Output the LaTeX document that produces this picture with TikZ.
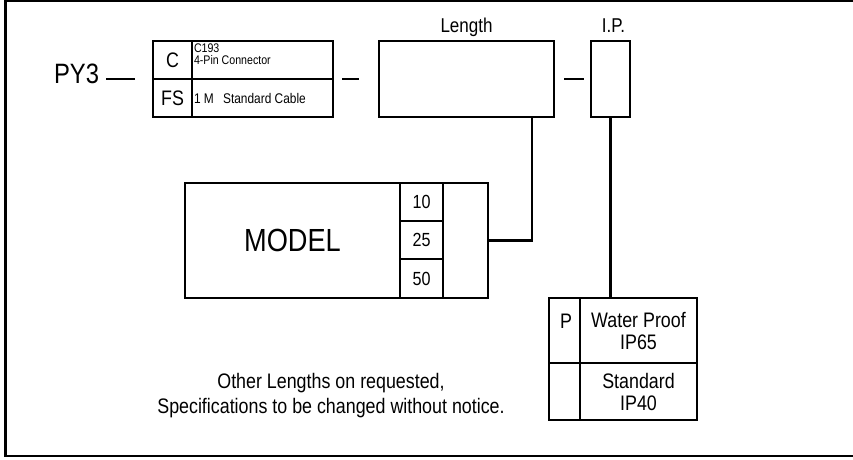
\documentclass[tikz,border=0pt]{standalone}
\usepackage{fontspec}
\setmainfont{Liberation Sans}[FakeStretch=0.85]
\usetikzlibrary{positioning}

\newcommand{\fsz}[2]{\fontsize{#1}{#2}\selectfont}

\begin{document}
\begin{tikzpicture}[
    x=1pt, y=-1pt,
    cell/.style={draw, rectangle, line width=2.3pt, inner sep=0pt, outer sep=0pt, align=center},
    lbl/.style={inner sep=0pt, outer sep=0pt, align=center},
    link/.style={line width=2.3pt}
]
\useasboundingbox (0,0) rectangle (853,459);
\clip (0,0) rectangle (853,459);

% Frame
\draw[line width=2.5pt] (5.5,0.5) rectangle (880,456);

% Cable group
\node (py3) [lbl, anchor=base east, font=\fsz{28}{28}] at (99,83) {PY3};
\node (cC) [cell, anchor=north west, minimum width=39pt, minimum height=38pt, font=\fsz{21}{21}] at (153,41) {C};
\node (cSpec) [cell, minimum width=141pt, minimum height=38pt, right=0pt of cC] {};
\node (cFS) [cell, minimum width=39pt, minimum height=38pt, below=0pt of cC, font=\fsz{21}{21}] {FS};
\node (cCable) [cell, minimum width=141pt, minimum height=38pt, right=0pt of cFS] {};
\node (cSpecTxt) [lbl, anchor=north west, align=left, font=\fsz{12.5}{12.5}] at ([shift={(2pt,-2.5pt)}]cSpec.north west) {C193\\4-Pin Connector};
\node (cCableTxt) [lbl, anchor=west, font=\fsz{14}{14}] at ([xshift=2pt]cCable.west) {1 M\hspace{6pt} Standard Cable};

% Length and I.P.
\node (len) [cell, anchor=north west, minimum width=175pt, minimum height=76pt] at (379,41) {};
\node (ip) [cell, anchor=north west, minimum width=39pt, minimum height=76pt] at (591,41) {};
\node (lenLbl) [lbl, anchor=base, font=\fsz{20}{20}] at ([yshift=9pt]len.north) {Length};
\node (ipLbl) [lbl, anchor=base, font=\fsz{20}{20}] at ([shift={(3pt,9pt)}]ip.north) {I.P.};

% Model block
\node (model) [cell, anchor=north west, minimum width=215pt, minimum height=115pt, font=\fsz{32}{32}] at (185,183) {MODEL};
\node (n10) [cell, anchor=north west, minimum width=43pt, minimum height=38pt, font=\fsz{19}{19}] at (400,183) {10};
\node (n25) [cell, minimum width=43pt, minimum height=38pt, below=0pt of n10, font=\fsz{19}{19}] {25};
\node (n50) [cell, minimum width=43pt, minimum height=39pt, below=0pt of n25, font=\fsz{19}{19}] {50};
\node (mBlank) [cell, anchor=north west, minimum width=45pt, minimum height=115pt] at (443,183) {};

% I.P. table
\node (ipP) [cell, anchor=north west, minimum width=31pt, minimum height=65pt] at (549,298) {};
\node (ipWP) [cell, minimum width=117pt, minimum height=65pt, right=0pt of ipP, font=\fsz{21}{22}] {Water Proof\\IP65};
\node (ipB) [cell, minimum width=31pt, minimum height=57pt, below=0pt of ipP] {};
\node (ipStd) [cell, minimum width=117pt, minimum height=57pt, right=0pt of ipB, font=\fsz{21}{22}] {Standard\\IP40};
\node (ipPTxt) [lbl, anchor=base, font=\fsz{21}{21}] at ([shift={(1.5pt,2.5pt)}]ipP.center) {P};

% Note
\node (note) [lbl, font=\fsz{21}{25}] at (331,396) {Other Lengths on requested,\\Specifications to be changed without notice.};

% Connectors
\draw[link] ([xshift=-18pt]cC.south west) -- ++(-29,0);
\draw[link] ([xshift=9pt]cSpec.south east) -- ([xshift=-20pt]len.west);
\draw[link] ([xshift=10pt]len.east) -- ([xshift=-7pt]ip.west);
\draw[link] ([xshift=-22pt]len.south east) |- (mBlank.east);
\draw[link] (ip.south) -- (ip.south |- ipWP.north);

\end{tikzpicture}
\end{document}
